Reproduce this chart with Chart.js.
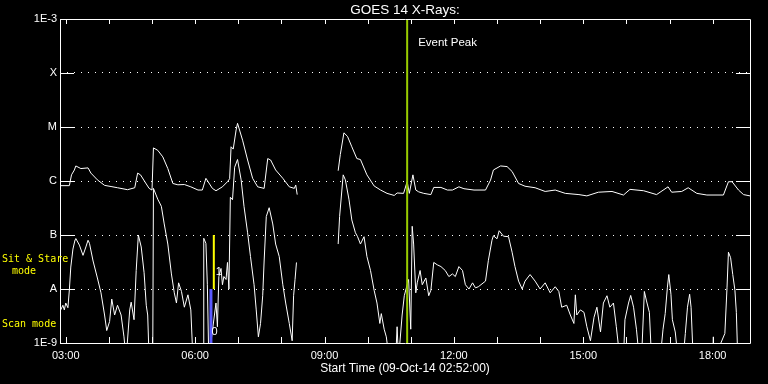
<!DOCTYPE html>
<html>
<head>
<meta charset="utf-8">
<script src="https://cdn.jsdelivr.net/npm/chart.js@4.4.0/dist/chart.umd.min.js"></script>
<style>
html, body { margin:0; padding:0; background:#000; }
</style>
</head>
<body>
<canvas id="mycanvas" width="768" height="384"></canvas>
<script>
// GOES 14 X-ray flux, 09-Oct-14
var startTime = "02:52";
var endTime = "18:52";
var eventPeakTime = "10:55";
var scanModeTime = "06:22";
var sitStareTime = "06:26";

var levelValues = [1e-9, 1e-8, 1e-7, 1e-6, 1e-5, 1e-4, 1e-3];
var levelLabels = ["1E-9", "A", "B", "C", "M", "X", "1E-3"];
var hourTicks = [3,4,5,6,7,8,9,10,11,12,13,14,15,16,17,18];

// long channel (1-8 A)
var longTimes = ["02:53","03:05","03:08","03:12","03:14","03:21","03:31","03:35","03:44","03:54",
  "04:03","04:12","04:26","04:36","04:40","04:44","04:50","04:56","05:00","05:02",
  "05:08","05:15","05:22","05:29","05:36","05:45","05:54","06:04","06:10","06:15",
  "06:24","06:29","06:38","06:45","06:48","06:50","06:53","06:57","06:59","07:06",
  "07:13","07:20","07:27","07:36","07:41","07:45","07:52","08:02","08:11","08:18",
  "08:20","08:22","08:50","09:19","09:22","09:27","09:32","09:38","09:45","09:50",
  "09:59","10:09","10:18","10:27","10:37","10:41","10:50","10:55","10:58","11:03",
  "11:07","11:11","11:18","11:28","11:32","11:42","11:51","11:58","12:07","12:14",
  "12:28","12:44","12:51","12:55","13:05","13:14","13:21","13:30","13:39","13:53",
  "14:07","14:21","14:35","14:54","15:05","15:21","15:40","15:56","16:05","16:24",
  "16:42","16:58","17:03","17:17","17:26","17:38","17:52","18:15","18:22","18:27",
  "18:36","18:43","18:52"];
var longFlux = [8.2e-7,8.2e-7,1.3e-6,1.6e-6,1.9e-6,1.7e-6,1.75e-6,1.4e-6,1.05e-6,8.3e-7,
  7.9e-7,7.5e-7,6.9e-7,7.5e-7,1.4e-6,1.3e-6,9.7e-7,7.3e-7,6.8e-7,4.1e-6,
  3.7e-6,2.8e-6,1.7e-6,9e-7,8.5e-7,8.6e-7,7.8e-7,6.8e-7,6.8e-7,1.12e-6,
  7.3e-7,6.6e-7,7.8e-7,9.7e-7,1.1e-6,4.3e-6,3.9e-6,8.8e-6,1.17e-5,5.7e-6,
  2.45e-6,1.12e-6,7.8e-7,7.3e-7,2.6e-6,2.45e-6,1.6e-6,1.12e-6,7.8e-7,7.3e-7,
  8.4e-7,5.6e-7,null,1.55e-6,3.1e-6,7.8e-6,6.7e-6,4.3e-6,2.6e-6,2.5e-6,
  1.3e-6,8.1e-7,6.8e-7,5.9e-7,5.4e-7,6e-7,5.9e-7,9.7e-7,5.9e-7,1.3e-6,
  6.8e-7,6.3e-7,5.9e-7,5.6e-7,7.6e-7,7.6e-7,6.8e-7,6.8e-7,7.8e-7,7.2e-7,
  6.8e-7,6.8e-7,1.04e-6,1.6e-6,1.9e-6,1.85e-6,1.5e-6,9e-7,8e-7,7.5e-7,
  6.4e-7,6.8e-7,5.9e-7,5.6e-7,5.3e-7,6.2e-7,6.4e-7,5.5e-7,7e-7,6.6e-7,
  5.6e-7,7.8e-7,6.2e-7,6.4e-7,7.5e-7,5.9e-7,5.5e-7,5.5e-7,9.7e-7,9.7e-7,
  6.8e-7,5.6e-7,5.3e-7];

// short channel (0.5-4 A)
var shortTimes = ["02:53","02:56","02:58","03:00","03:03","03:05","03:07","03:10","03:13","03:14",
  "03:19","03:24","03:28","03:31","03:33","03:38","03:44","03:49","03:54","03:57",
  "04:01","04:04","04:08","04:12","04:17","04:21","04:24","04:29","04:31","04:35",
  "04:38","04:41","04:45","04:49","04:52","04:54","04:56","05:01","05:02","05:08",
  "05:13","05:17","05:22","05:27","05:31","05:34","05:37","05:41","05:45","05:50",
  "05:54","05:57","06:11","06:12","06:15","06:17","06:19","06:29","06:31","06:33",
  "06:36","06:38","06:40","06:43","06:45","06:47","06:49","06:52","06:55","06:59",
  "07:04","07:08","07:13","07:17","07:22","07:25","07:28","07:31","07:34","07:36",
  "07:39","07:43","07:48","07:52","07:57","08:02","08:06","08:11","08:15","08:17",
  "08:19","08:21","08:50","09:19","09:21","09:26","09:29","09:34","09:38","09:43",
  "09:46","09:50","09:55","09:59","10:04","10:09","10:13","10:17","10:19","10:23",
  "10:26","10:30","10:39","10:41","10:43","10:48","10:51","10:55","10:57","11:00",
  "11:02","11:04","11:07","11:09","11:13","11:16","11:21","11:25","11:28","11:32",
  "11:37","11:42","11:48","11:53","11:58","12:02","12:07","12:12","12:16","12:21",
  "12:26","12:30","12:34","12:44","12:48","12:53","12:55","13:00","13:03","13:09",
  "13:16","13:21","13:25","13:30","13:35","13:39","13:46","13:53","14:00","14:07",
  "14:14","14:21","14:26","14:30","14:37","14:42","14:47","14:49","14:51","14:56",
  "15:01","15:05","15:10","15:15","15:19","15:24","15:28","15:33","15:37","15:42",
  "15:46","15:51","15:56","15:58","16:03","16:06","16:10","16:14","16:18","16:22",
  "16:25","16:28","16:32","16:35","16:47","16:51","16:54","16:57","16:59","17:02",
  "17:04","17:08","17:12","17:19","17:22","17:25","17:28","17:30","17:33","18:00",
  "18:01","18:02","18:17","18:20","18:22","18:25","18:28","18:31","18:33","18:35",
  "18:52"];
var shortFlux = [4.1e-9,5e-9,4.1e-9,5.5e-9,4.5e-9,9.6e-9,2.55e-8,5.5e-8,8.2e-8,8.6e-8,
  6.5e-8,4.2e-8,6e-8,8e-8,7e-8,3.3e-8,1.6e-8,8.5e-9,3.3e-9,1.7e-9,
  2.5e-9,6.5e-9,3.3e-9,5e-9,3.3e-9,1.3e-9,5e-10,4.1e-9,5.7e-9,2.7e-9,
  2.2e-8,1e-7,6e-8,2e-8,5e-9,3.3e-9,5e-10,5e-10,7.3e-7,4.6e-7,
  3.4e-7,1.6e-7,6.8e-8,1.9e-8,8.5e-9,5.5e-9,1.3e-8,9e-9,4.6e-9,7.8e-9,
  4.1e-9,5e-10,5e-10,8.7e-8,7e-8,1.2e-8,5e-10,5.5e-9,2e-9,1.7e-8,
  2.4e-8,1.2e-8,1.7e-8,1.5e-8,3.1e-8,1e-8,5e-7,4.5e-7,1.8e-6,2.5e-6,
  1.05e-6,3.4e-7,1.1e-7,4e-8,1.2e-8,4.1e-9,1.3e-9,2.3e-9,7.5e-9,3.3e-8,
  2.2e-7,3.2e-7,1.6e-7,6.8e-8,4e-8,1.2e-8,5.5e-9,2.3e-9,1.1e-9,7.5e-9,
  1.5e-8,3.1e-8,null,6.8e-8,2.2e-7,1.3e-6,1.05e-6,4.6e-7,1.9e-7,1.1e-7,
  9.3e-8,6.8e-8,9.3e-8,4e-8,2.2e-8,9.5e-9,5.5e-9,2.3e-9,3.5e-9,1.8e-9,
  1.3e-9,5e-10,5e-10,2e-9,5e-10,3.3e-9,7.5e-9,1.2e-8,1.5e-8,1.8e-9,
  1.45e-7,6.8e-8,8.5e-9,1.3e-8,2.2e-8,1.2e-8,1.6e-8,7.5e-9,9.5e-9,3.1e-8,
  2.8e-8,2.6e-8,2.2e-8,1.7e-8,1.9e-8,1.7e-8,2.6e-8,2.2e-8,1.2e-8,1e-8,
  1.3e-8,1.05e-8,1.1e-8,1.4e-8,3.4e-8,8e-8,9.7e-8,8.5e-8,1.2e-7,9.5e-8,
  9.3e-8,4.8e-8,2.6e-8,1.4e-8,1e-8,1.4e-8,1.85e-8,1.4e-8,1e-8,1.3e-8,
  8.5e-9,1.1e-8,9e-9,4.6e-9,5e-9,3.3e-9,2.3e-9,7.8e-9,3.3e-9,4.1e-9,
  3.7e-9,2e-9,1.1e-9,3e-9,4.6e-9,1.6e-9,5.5e-9,7.5e-9,4.6e-9,5.5e-9,
  2e-9,5e-10,5e-10,2.7e-9,5.5e-9,7.6e-9,4.6e-9,1.8e-9,5e-10,1e-9,
  9e-9,6e-9,3.7e-9,5e-10,5e-10,1.8e-9,3.5e-9,1.05e-8,1.85e-8,8e-9,
  2.7e-9,1.6e-9,5e-10,5e-10,1.5e-9,4.6e-9,8e-9,4.6e-9,5e-10,5e-10,
  1.3e-9,5e-10,1.5e-9,1.05e-8,4.8e-8,3.8e-8,1.85e-8,9.5e-9,3.7e-9,5e-10,
  5e-10];

function toHours(s) {
    var p = s.split(":");
    return parseInt(p[0], 10) + parseInt(p[1], 10) / 60;
}
function series(times, flux) {
    var out = [];
    for (var i in times) {
        out.push({x: toHours(times[i]), y: flux[i]});
    }
    return out;
}
function pad2(n) { return (n < 10 ? "0" : "") + n; }

var decor = {
    id: "decor",
    afterDraw: function(chart) {
        var ctx = chart.ctx;
        var a = chart.chartArea;
        var xs = chart.scales.x, ys = chart.scales.y;
        ctx.save();
        ctx.strokeStyle = "#fff";
        ctx.lineWidth = 1;
        ctx.beginPath();
        ctx.rect(Math.round(a.left) + 0.5, Math.round(a.top) + 0.5,
                 Math.round(a.right - a.left), Math.round(a.bottom - a.top));
        // inward tick marks
        hourTicks.forEach(function(h) {
            var px = Math.round(xs.getPixelForValue(h)) + 0.5;
            ctx.moveTo(px, a.bottom); ctx.lineTo(px, a.bottom - 6);
            ctx.moveTo(px, a.top); ctx.lineTo(px, a.top + 5);
        });
        levelValues.forEach(function(v) {
            var py = Math.round(ys.getPixelForValue(v)) + 0.5;
            ctx.moveTo(a.left, py); ctx.lineTo(a.left + 14, py);
            ctx.moveTo(a.right - 14, py); ctx.lineTo(a.right, py);
        });
        ctx.stroke();

        ctx.fillStyle = "#fff";
        ctx.textBaseline = "middle";
        ctx.textAlign = "center";
        ctx.font = "13.5px 'Liberation Sans'";
        ctx.fillText("GOES 14 X-Rays:", (a.left + a.right) / 2, 10);

        ctx.font = "11.5px 'Liberation Sans'";
        ctx.textAlign = "left";
        ctx.fillText("Event Peak", xs.getPixelForValue(toHours(eventPeakTime)) + 11, a.top + 24);

        ctx.font = "11px 'Liberation Sans'";
        ctx.textAlign = "center";
        ctx.fillText("1", xs.getPixelForValue(toHours("06:33")), ys.getPixelForValue(2.07e-8));
        ctx.fillText("0", xs.getPixelForValue(toHours("06:27")), ys.getPixelForValue(1.6e-9));

        var yA = ys.getPixelForValue(1e-8), yBot = ys.getPixelForValue(1e-9);
        ctx.fillStyle = "#ffff00";
        ctx.textAlign = "left";
        ctx.font = "10px 'DejaVu Sans Mono'";
        ctx.fillText("Sit & Stare", 2, yA - 30);
        ctx.fillText("mode", 12, yA - 18);
        ctx.fillText("Scan mode", 2, yBot - 19);
        ctx.restore();
    }
};

var chartdata = {
    datasets: [
        {
            label: "Event Peak",
            data: [{x: toHours(eventPeakTime), y: 1e-9}, {x: toHours(eventPeakTime), y: 1e-3}],
            borderColor: "#99cc00",
            borderWidth: 2
        },
        {
            label: "Sit & Stare",
            data: [{x: toHours(sitStareTime), y: 1e-8}, {x: toHours(sitStareTime), y: 1e-7}],
            borderColor: "#ffff00",
            borderWidth: 2
        },
        {
            label: "Scan",
            data: [{x: toHours(scanModeTime), y: 1e-9}, {x: toHours(scanModeTime), y: 1e-8}],
            borderColor: "#5a5aff",
            borderWidth: 3
        },
        {
            label: "Long",
            data: series(longTimes, longFlux),
            borderColor: "#fff",
            borderWidth: 1
        },
        {
            label: "Short",
            data: series(shortTimes, shortFlux),
            borderColor: "#fff",
            borderWidth: 1
        }
    ]
};

var ctx = document.getElementById("mycanvas");

var LineGraph = new Chart(ctx, {
    type: "line",
    data: chartdata,
    plugins: [decor],
    options: {
        responsive: false,
        animation: false,
        events: [],
        spanGaps: false,
        layout: { padding: { left: 0, right: 18, top: 19, bottom: 0 } },
        elements: {
            point: { radius: 0 },
            line: { tension: 0, fill: false }
        },
        plugins: {
            legend: { display: false },
            tooltip: { enabled: false },
            title: { display: false }
        },
        scales: {
            x: {
                type: "linear",
                min: toHours(startTime),
                max: toHours(endTime),
                afterBuildTicks: function(s) {
                    s.ticks = hourTicks.map(function(h) { return {value: h}; });
                },
                afterFit: function(s) { s.height = 41; },
                ticks: {
                    color: "#fff",
                    font: { family: "Liberation Sans", size: 11 },
                    autoSkip: false,
                    maxRotation: 0,
                    padding: 6,
                    callback: function(v) { return v % 3 === 0 ? pad2(v) + ":00" : ""; }
                },
                grid: { display: false, drawTicks: false },
                border: { display: false },
                title: {
                    display: true,
                    text: "Start Time (09-Oct-14 02:52:00)",
                    color: "#fff",
                    font: { family: "Liberation Sans", size: 12 },
                    padding: { top: 0, bottom: 8 }
                }
            },
            y: {
                type: "logarithmic",
                min: 1e-9,
                max: 1e-3,
                afterBuildTicks: function(s) {
                    s.ticks = levelValues.map(function(v) { return {value: v}; });
                },
                afterFit: function(s) { s.width = 60; },
                ticks: {
                    color: "#fff",
                    font: { family: "Liberation Sans", size: 11 },
                    padding: 3,
                    autoSkip: false,
                    callback: function(v, i) { return levelLabels[i]; }
                },
                grid: {
                    drawTicks: false,
                    lineWidth: 1,
                    color: function(c) {
                        return (c.index === 0 || c.index === levelValues.length - 1) ? "rgba(0,0,0,0)" : "#fff";
                    }
                },
                border: { display: false, dash: [1, 6] }
            }
        }
    }
});
</script>
</body>
</html>
